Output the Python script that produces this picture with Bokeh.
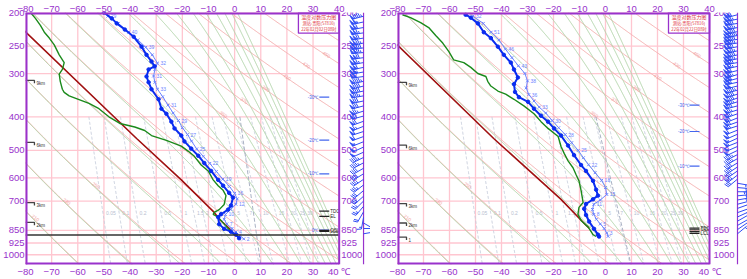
import math
import numpy as np
from bokeh.plotting import figure
from bokeh.layouts import row
from bokeh.models import Range1d, FixedTicker, LinearAxis, Label
from bokeh.embed import file_html
from bokeh.resources import INLINE
from bokeh.core.properties import value

# ---------------- axes ----------------
P_TICKS = [200, 250, 300, 400, 500, 600, 700, 850, 925, 1000]
T_TICKS = [-80, -70, -60, -50, -40, -30, -20, -10, 0, 10, 20, 30, 40]
T_MIN, T_MAX = -80, 40
P_TOP, P_BOT = 200, 1067

# ---------------- diagram families ----------------
DRY_THETA = [190, 210, 230, 250, 270, 290, 310, 330, 350, 370, 390, 410, 430, 450, 470, 490]
MOIST_THETA_SE = [210, 230, 250, 270, 290, 310, 330, 350, 370, 390, 410, 430, 450, 470, 490, 510, 530]
MIX_RATIO = [0.05, 0.1, 0.2, 0.5, 1, 1.5, 2, 3, 5, 7, 10, 15, 20, 25, 30]
MIX_LABEL_P = 760
DRY_LABEL_THETA = [210, 230, 250, 350, 370, 390, 410, 430, 450]
DRY_LABEL_P = [770, 690, 620, 387, 353, 326, 302, 279, 260]

# ---------------- left sounding ----------------
L_TITLE = ["温度对数压力图", "测站:贵阳(57816)", "22年02月02日08时"]
L_T_P = [200, 208, 215, 224, 235, 251, 265, 277, 286, 292, 306, 318, 333, 356, 379, 392, 413, 432, 453, 471,
         494, 518, 544, 573, 608, 632, 663, 684, 721, 741, 764, 779, 816, 842, 858, 875, 896]
L_T_T = [-50.0, -47.0, -45.1, -42.0, -38.6, -35.6, -33.7, -31.8, -30.6, -32.9, -33.7, -32.9, -31.8, -29.1,
         -28.0, -26.1, -24.2, -23.0, -20.4, -19.2, -16.6, -13.9, -11.6, -9.0, -6.3, -4.4, -2.1, -0.6, -1.4,
         -2.5, -5.2, -6.3, -5.9, -4.0, -1.4, 0.5, 1.7]
L_TD_P = [200, 208, 218, 228, 237, 248, 265, 279, 292, 301, 316, 333, 340, 348, 366, 379, 400, 418, 428, 438,
          453, 468, 486, 503, 520, 551, 573, 608, 632, 652, 675, 716, 741, 755, 765, 779, 816, 858, 875]
L_TD_T = [-78.1, -76.2, -74.3, -72.8, -70.9, -69.0, -67.1, -65.2, -65.9, -67.1, -66.7, -65.9, -65.2, -63.3,
          -55.7, -51.9, -48.1, -43.9, -38.2, -34.4, -31.8, -26.1, -20.4, -17.7, -15.4, -12.8, -10.1, -8.2,
          -6.3, -4.4, -3.3, -4.0, -5.9, -7.8, -8.2, -6.3, -4.0, -1.4, -0.2]
L_PC_P = [220, 462, 608, 755, 790, 822, 849]
L_PC_T = [-82.0, -37.5, -20.4, -7.8, -5.9, -3.3, -1.4]
L_TX_P = [205, 215, 228, 240, 252, 265, 280, 292, 305, 318, 333, 350, 370, 390, 410, 430, 450, 470, 495, 520,
          545, 575, 605, 635, 665, 690, 715, 740, 765, 790, 815, 840, 860, 880, 900]
L_TX_T = [-48.5, -44.5, -40.5, -37.0, -34.0, -31.5, -29.5, -30.5, -31.0, -30.5, -29.5, -27.5, -25.5, -23.5,
          -21.5, -20.0, -18.0, -16.5, -14.5, -12.0, -9.5, -7.0, -4.5, -2.0, 0.0, 1.0, 0.5, -1.5, -3.5, -4.0,
          -3.0, -1.0, 0.5, 2.0, 3.5]
L_TX_LBL = ["29", "", "40", "", "39", "", "32", "", "31", "", "33", "", "31", "", "29", "", "27", "", "25", "",
            "22", "", "19", "", "16", "", "12", "", "10", "", "7", "", "4", "", "2"]
L_W_P = [205, 213, 221, 229, 237, 245, 253, 261, 270, 279, 288, 297, 306, 316, 326, 337, 348, 360, 372, 385,
         398, 412, 426, 441, 456, 472, 489, 506, 524, 543, 563, 584, 606, 629, 653, 678, 700, 725, 752, 780,
         810, 840, 870]
L_W_D = [255, 258, 260, 262, 260, 258, 262, 265, 262, 260, 258, 260, 262, 258, 255, 258, 260, 258, 255, 252,
         255, 250, 248, 252, 250, 248, 245, 246, 244, 242, 240, 238, 236, 232, 230, 228, 225, 220, 210, 190,
         120, 90, 80]
L_W_S = [38, 42, 44, 46, 48, 50, 52, 50, 48, 46, 44, 42, 40, 38, 36, 36, 34, 32, 32, 30, 28, 28, 26, 24, 24,
         22, 20, 20, 18, 18, 16, 16, 14, 14, 12, 12, 10, 10, 8, 6, 4, 4, 6]
L_HGT_P = [314, 474, 707, 806]
L_HGT_LBL = ["9km", "6km", "3km", "2km"]
L_GROUND_P = 877
L_ISO_P = [351, 467, 584, 849]
L_ISO_LBL = ["-30℃", "-20℃", "-10℃", "0℃"]
L_LVL_P = [748, 775, 851, 856]
L_LVL_LBL = ["TDC", "EL", "CCL", "LCL"]
L_GUIDE_P = [400, 1067]
L_GUIDE_T = [2.0, 10.0]

# ---------------- right sounding ----------------
R_TITLE = ["温度对数压力图", "测站:贵阳(57816)", "22年02月22日08时"]
R_T_P = [203, 207, 215, 228, 237, 251, 265, 279, 292, 308, 322, 339, 351, 362, 379, 397, 413, 432, 453, 484,
         516, 551, 573, 612, 649, 675, 692, 714, 737, 768, 802, 842, 875, 886]
R_T_T = [-53.8, -51.8, -49.1, -46.8, -44.1, -41.4, -39.1, -36.4, -35.2, -33.7, -35.2, -34.8, -33.3, -29.8,
         -27.5, -24.8, -22.1, -19.8, -17.1, -14.4, -12.1, -9.4, -7.5, -4.8, -3.6, -2.9, -4.8, -7.5, -8.2,
         -7.5, -6.3, -4.4, -2.9, -2.5]
R_TD_P = [203, 207, 214, 221, 233, 245, 259, 274, 279, 288, 300, 306, 316, 326, 337, 344, 356, 372, 392, 413,
          432, 456, 487, 510, 536, 561, 588, 612, 652, 707, 730, 765, 796, 831, 875, 886]
R_TD_T = [-78.1, -75.0, -71.1, -68.0, -65.3, -62.6, -60.3, -58.4, -54.5, -51.8, -49.1, -46.0, -45.3, -44.1,
          -41.4, -38.4, -35.2, -31.4, -27.5, -24.8, -22.1, -18.2, -17.1, -15.9, -14.4, -12.5, -11.3, -10.2,
          -9.4, -8.6, -10.2, -10.6, -9.4, -6.7, -4.8, -3.6]
R_PC_P = [240, 462, 692, 822, 838]
R_PC_T = [-82.0, -43.0, -17.1, -7.5, -6.3]
R_TX_P = [205, 215, 228, 240, 255, 270, 285, 300, 315, 330, 345, 360, 375, 390, 410, 430, 450, 475, 500, 525,
          550, 580, 610, 640, 670, 695, 715, 740, 765, 790, 815, 840, 865, 885]
R_TX_T = [-51.0, -47.0, -44.0, -41.0, -38.5, -36.0, -33.5, -31.0, -30.0, -30.5, -29.5, -27.5, -25.5, -23.0,
          -20.5, -18.0, -15.5, -13.0, -10.5, -8.5, -6.5, -4.0, -1.5, 0.0, 0.5, -2.0, -4.5, -5.0, -4.5, -3.5,
          -2.0, -0.5, 0.5, 1.0]
R_TX_LBL = ["32", "", "51", "", "46", "", "43", "", "38", "", "36", "", "33", "", "30", "", "28", "", "25", "",
            "22", "", "18", "", "15", "", "11", "", "8", "", "5", "", "3", ""]
R_W_P = [203, 209, 215, 221, 227, 233, 239, 245, 251, 258, 265, 272, 279, 286, 294, 302, 310, 318, 326, 335,
         344, 353, 362, 372, 382, 392, 403, 414, 425, 437, 449, 461, 474, 487, 500, 514, 528, 543, 558, 573,
         589, 605, 622, 640, 658, 676, 695, 715, 735, 756, 778, 800, 823, 846, 870]
R_W_D = [255, 258, 260, 257, 255, 258, 260, 262, 258, 256, 255, 258, 260, 257, 255, 252, 255, 258, 256, 254,
         252, 250, 252, 255, 252, 250, 248, 250, 252, 248, 246, 245, 248, 246, 244, 242, 240, 238, 236, 235,
         232, 230, 100, 95, 90, 85, 80, 75, 70, 70, 65, 60, 60, 55, 50]
R_W_S = [44, 46, 48, 50, 52, 54, 52, 50, 48, 50, 52, 50, 48, 46, 44, 46, 44, 42, 40, 38, 36, 36, 34, 32, 30,
         30, 28, 28, 26, 24, 24, 22, 22, 20, 20, 18, 18, 16, 16, 14, 14, 12, 10, 12, 14, 12, 10, 8, 8, 6, 6,
         4, 4, 4, 2]
R_HGT_P = [318, 483, 712, 810, 889]
R_HGT_LBL = ["9km", "6km", "3km", "2km", "1"]
R_ISO_P = [370, 441, 555]
R_ISO_LBL = ["-30℃", "-20℃", "-10℃"]
R_LVL_P = [838, 847, 858, 868]
R_LVL_LBL = ["TDC", "CCL", "", "LCL"]
R_GUIDE_P = [400, 1067]
R_GUIDE_T = [-3.7, 9.8]

# ---------------- styles ----------------
PURPLE = "#9932CC"
GRID_PINK = "#FFC6D0"
DRY_PINK = "#F4B0B0"
MOIST_GREEN = "#B2D4AA"
MIX_GRAY = "#C8CEDC"
T_BLUE = "#0A2CF0"
LIGHT_BLUE = "#6C84FF"
DEW_GREEN = "#1B8A1B"
PARCEL_RED = "#A01010"
TITLE_RED = "#E0303A"
BARB_BLUE = "#2F4CF5"
FONT = "Liberation Sans"
CJK = "Noto Sans CJK SC"

RD, CPD, LV, EPS = 287.04, 1005.7, 2.501e6, 0.622


def es_hpa(tk):
    return 6.112 * np.exp(17.67 * (tk - 273.15) / (tk - 29.65))


def pseudo_adiabat(theta_se, p_grid):
    """integrate a saturated pseudo-adiabat downward from 30 hPa"""
    def f(t, lnp):
        p = math.exp(lnp)
        e = es_hpa(t)
        rs = EPS * e / max(p - e, 1e-6)
        return (RD * t + LV * rs) / (CPD + LV * LV * rs * EPS / (RD * t * t))
    lnps = np.linspace(math.log(30), math.log(p_grid[-1]), 900)
    t = theta_se * (30 / 1000.0) ** 0.2857
    out = [t]
    for i in range(len(lnps) - 1):
        h = lnps[i + 1] - lnps[i]
        l0 = lnps[i]
        k1 = f(t, l0)
        k2 = f(t + h * k1 / 2, l0 + h / 2)
        k3 = f(t + h * k2 / 2, l0 + h / 2)
        k4 = f(t + h * k3, l0 + h)
        t = t + h * (k1 + 2 * k2 + 2 * k3 + k4) / 6
        out.append(t)
    return np.interp(np.log(p_grid), lnps, np.array(out)) - 273.15


def clip_right(tarr):
    t = np.array(tarr, dtype=float)
    t[t > T_MAX] = np.nan
    return t


def build_panel(width, frame_left, panel_px, station_px, right_lbl_off, hpa_off, snd):
    height = 279
    top_b, bot_b = 12, 11
    frame_w = width - frame_left
    frame_h = height - top_b - bot_b
    sx = panel_px / (T_MAX - T_MIN)
    sy = frame_h / math.log(P_BOT / P_TOP)
    x_end = T_MIN + frame_w / sx

    def off(t, p, dx, dy):
        return t + dx / sx, p * math.exp(dy / sy)

    p = figure(width=width, height=height, x_range=Range1d(T_MIN, x_end), y_range=Range1d(P_BOT, P_TOP),
               y_axis_type="log", output_backend="svg", toolbar_location=None,
               min_border_left=frame_left, min_border_right=0, min_border_top=top_b, min_border_bottom=bot_b)
    p.outline_line_color = None
    p.grid.visible = False
    p.background_fill_color = "white"

    top_axis = LinearAxis(ticker=FixedTicker(ticks=T_TICKS))
    p.add_layout(top_axis, "above")
    p.xaxis.ticker = FixedTicker(ticks=T_TICKS)
    p.yaxis.ticker = FixedTicker(ticks=P_TICKS)
    p.yaxis.major_label_overrides = {t: str(t) for t in P_TICKS}
    p.below[0].major_label_overrides = {40: "40 ℃"}
    for ax in p.xaxis + p.yaxis:
        ax.axis_line_color = None
        ax.major_tick_line_color = None
        ax.minor_tick_line_color = None
        ax.major_tick_out = 0
        ax.major_tick_in = 0
        ax.major_label_text_color = PURPLE
        ax.major_label_text_font = FONT
        ax.major_label_text_font_size = "9.5px"
        ax.major_label_standoff = 1

    pg = np.geomspace(P_TOP, P_BOT, 420)

    # isotherms and isobars
    p.segment(x0=T_TICKS, y0=P_BOT, x1=T_TICKS, y1=P_TOP, line_color=GRID_PINK, line_width=1.3)
    p.segment(x0=T_MIN, y0=P_TICKS, x1=T_MAX, y1=P_TICKS, line_color=GRID_PINK, line_width=1.3)

    # mixing ratio lines
    xs, ys = [], []
    pm = np.geomspace(400, P_BOT, 200)
    for w in MIX_RATIO:
        e = w * pm / (622.0 + w)
        lg = np.log(e / 6.112)
        td = 243.5 * lg / (17.67 - lg)
        xs.append(clip_right(td))
        ys.append(pm)
    p.multi_line(xs, ys, line_color=MIX_GRAY, line_width=1, line_dash="3 2")
    lbl_t = []
    for w in MIX_RATIO:
        e = w * MIX_LABEL_P / (622.0 + w)
        lg = math.log(e / 6.112)
        lbl_t.append(243.5 * lg / (17.67 - lg))
    p.text(x=lbl_t, y=[MIX_LABEL_P] * len(MIX_RATIO), text=[str(w) for w in MIX_RATIO], x_offset=3,
           text_font=value(FONT), text_font_size="5px", text_color="#B8C0D0", text_baseline="middle")

    # dry adiabats
    xs = [clip_right(th * (pg / 1000.0) ** 0.2857 - 273.15) for th in DRY_THETA]
    p.multi_line(xs, [pg] * len(xs), line_color=DRY_PINK, line_width=1)
    dl_t = [th * (pp / 1000.0) ** 0.2857 - 273.15 for th, pp in zip(DRY_LABEL_THETA, DRY_LABEL_P)]
    p.text(x=dl_t, y=DRY_LABEL_P, text=[str(t) for t in DRY_LABEL_THETA], x_offset=2, angle=-0.6,
           text_font=value(FONT), text_font_size="5px", text_color="#F2A0A0", text_baseline="middle")

    # moist adiabats
    xs = [clip_right(pseudo_adiabat(th, pg)) for th in MOIST_THETA_SE]
    p.multi_line(xs, [pg] * len(xs), line_color=MOIST_GREEN, line_width=1)

    # guide line
    p.line(snd["guide_t"], snd["guide_p"], line_color="#AAB2C4", line_width=1, line_dash="4 2")

    # title box
    bx0, _ = off(T_MAX, P_TOP, -41, 0)
    _, by1 = off(T_MAX, P_TOP, 0, 21)
    p.quad(left=bx0, right=T_MAX, top=P_TOP, bottom=by1, fill_color="white", line_color=PURPLE, line_width=1.3)
    cx = (bx0 + T_MAX) / 2
    ty = [off(T_MAX, P_TOP, 0, d)[1] for d in (4.5, 11, 16.5)]
    p.text(x=[cx] * 3, y=ty, text=snd["title"], text_align="center", text_baseline="middle",
           text_font=value(CJK), text_font_size=["5px", "4.2px", "4.2px"], text_color=TITLE_RED)

    # parcel (red)
    p.line(snd["pc_t"], snd["pc_p"], line_color=PARCEL_RED, line_width=1.6)
    # dew point
    p.line(snd["td_t"], snd["td_p"], line_color=DEW_GREEN, line_width=1.4)
    # light temperature trace
    p.line(snd["tx_t"], snd["tx_p"], line_color=LIGHT_BLUE, line_width=1)
    p.scatter(snd["tx_t"], snd["tx_p"], marker="x", size=4, line_color=LIGHT_BLUE, line_width=1)
    p.text(x=snd["tx_t"], y=snd["tx_p"], text=snd["tx_lbl"], x_offset=3, text_baseline="middle",
           text_font=value(FONT), text_font_size="5px", text_color=LIGHT_BLUE)
    # temperature
    p.line(snd["t_t"], snd["t_p"], line_color=T_BLUE, line_width=2)
    p.scatter(snd["t_t"], snd["t_p"], marker="circle", size=3.5, fill_color=T_BLUE, line_color=T_BLUE)

    # height markers
    for pp, lb in zip(snd["hgt_p"], snd["hgt_lbl"]):
        x1, _ = off(T_MIN, pp, 9, 0)
        _, y2 = off(T_MIN, pp, 0, 3)
        p.line([T_MIN, x1, x1], [pp, pp, y2], line_color="#444444", line_width=1.3)
        xl, _ = off(T_MIN, pp, 11, 0)
        p.text(x=[xl], y=[y2], text=[lb], text_font=value(FONT), text_font_size="4.5px",
               text_color="#333333", text_baseline="middle")
    if snd.get("ground_p"):
        p.segment(x0=T_MIN, y0=snd["ground_p"], x1=T_MAX, y1=snd["ground_p"], line_color="#333333",
                  line_width=1.3)

    # isotherm level markers
    xt, _ = off(T_MAX, P_TOP, -21, 0)
    xd0, _ = off(T_MAX, P_TOP, -20, 0)
    xd1, _ = off(T_MAX, P_TOP, -10, 0)
    p.text(x=[xt] * len(snd["iso_p"]), y=snd["iso_p"], text=snd["iso_lbl"], text_align="right",
           text_baseline="middle", text_font=value(FONT), text_font_size="4.5px", text_color="#4466EE")
    p.segment(x0=xd0, y0=snd["iso_p"], x1=xd1, y1=snd["iso_p"], line_color="#4466EE", line_width=1.2)
    # level markers (black)
    p.segment(x0=xd0, y0=snd["lvl_p"], x1=xd1, y1=snd["lvl_p"], line_color="#222222", line_width=1.2)
    xl1, _ = off(T_MAX, P_TOP, -9, 0)
    p.text(x=[xl1] * len(snd["lvl_p"]), y=snd["lvl_p"], text=snd["lvl_lbl"], text_baseline="middle",
           text_font=value(FONT), text_font_size="4.5px", text_color="#222222")

    # right-side pressure labels
    p.text(x=[T_MAX] * len(P_TICKS), y=P_TICKS, text=[str(t) for t in P_TICKS], x_offset=right_lbl_off,
           text_baseline="middle", text_font=value(FONT), text_font_size="9.5px", text_color=PURPLE)

    # wind barbs
    t_st, _ = off(T_MAX, P_TOP, station_px, 0)
    p.segment(x0=t_st, y0=P_BOT, x1=t_st, y1=P_TOP, line_color=PURPLE, line_width=1.2)
    bx, by, fx, fy = [], [], [], []
    for pp, d, s in zip(snd["w_p"], snd["w_d"], snd["w_s"]):
        L = 12.0
        rad = math.radians(d)
        ux, uy = math.sin(rad), -math.cos(rad)
        nx, ny = -uy, ux
        segs = [[(0.0, 0.0), (ux * L, uy * L)]]
        pos = L
        n20 = int(s // 20)
        rem = s - 20 * n20
        n4 = int(rem // 4)
        rem -= 4 * n4
        for _ in range(n20):
            tri = [(ux * pos, uy * pos), (ux * pos + nx * 4.5 + ux * 1.2, uy * pos + ny * 4.5 + uy * 1.2),
                   (ux * (pos - 2.5), uy * (pos - 2.5))]
            fx.append([t_st + a / sx for a, _ in tri])
            fy.append([pp * math.exp(b / sy) for _, b in tri])
            pos -= 3.0
        for _ in range(n4):
            segs.append([(ux * pos, uy * pos), (ux * pos + nx * 4.5 + ux * 1.2, uy * pos + ny * 4.5 + uy * 1.2)])
            pos -= 1.8
        if rem >= 2:
            if pos == L:
                pos -= 2
            segs.append([(ux * pos, uy * pos), (ux * pos + nx * 2.5 + ux * 0.6, uy * pos + ny * 2.5 + uy * 0.6)])
        for sg in segs:
            bx.append([t_st + a / sx for a, _ in sg])
            by.append([pp * math.exp(b / sy) for _, b in sg])
    p.multi_line(bx, by, line_color=BARB_BLUE, line_width=1)
    p.patches(fx, fy, fill_color=BARB_BLUE, line_color=BARB_BLUE, line_width=0.8)

    # frame
    p.segment(x0=[T_MIN, T_MIN, T_MIN], y0=[P_BOT, P_TOP, P_BOT], x1=[T_MIN, T_MAX, T_MAX],
              y1=[P_TOP, P_TOP, P_BOT], line_color=PURPLE, line_width=4)
    p.segment(x0=T_MAX, y0=P_BOT, x1=T_MAX, y1=P_TOP, line_color=PURPLE, line_width=2)

    p.add_layout(Label(x=T_MIN, y=P_TOP, x_offset=-hpa_off, y_offset=3, text="hPa", text_color=PURPLE,
                       text_font=FONT, text_font_size="9.5px", text_baseline="bottom"))
    return p


left_snd = dict(title=L_TITLE, t_p=L_T_P, t_t=L_T_T, td_p=L_TD_P, td_t=L_TD_T, pc_p=L_PC_P, pc_t=L_PC_T,
                tx_p=L_TX_P, tx_t=L_TX_T, tx_lbl=L_TX_LBL, w_p=L_W_P, w_d=L_W_D, w_s=L_W_S,
                hgt_p=L_HGT_P, hgt_lbl=L_HGT_LBL, ground_p=L_GROUND_P, iso_p=L_ISO_P, iso_lbl=L_ISO_LBL,
                lvl_p=L_LVL_P, lvl_lbl=L_LVL_LBL, guide_p=L_GUIDE_P, guide_t=L_GUIDE_T)
right_snd = dict(title=R_TITLE, t_p=R_T_P, t_t=R_T_T, td_p=R_TD_P, td_t=R_TD_T, pc_p=R_PC_P, pc_t=R_PC_T,
                 tx_p=R_TX_P, tx_t=R_TX_T, tx_lbl=R_TX_LBL, w_p=R_W_P, w_d=R_W_D, w_s=R_W_S,
                 hgt_p=R_HGT_P, hgt_lbl=R_HGT_LBL, ground_p=None, iso_p=R_ISO_P, iso_lbl=R_ISO_LBL,
                 lvl_p=R_LVL_P, lvl_lbl=R_LVL_LBL, guide_p=R_GUIDE_P, guide_t=R_GUIDE_T)

p_left = build_panel(370, 23, 315.5, 24.5, 2, 23, left_snd)
p_right = build_panel(377, 27, 312, 28, 4, 27, right_snd)

layout = row(p_left, p_right, spacing=0)
layout.styles = {"position": "absolute", "left": "0px", "top": "0px"}

open("out.html", "w").write(file_html(layout, INLINE))
